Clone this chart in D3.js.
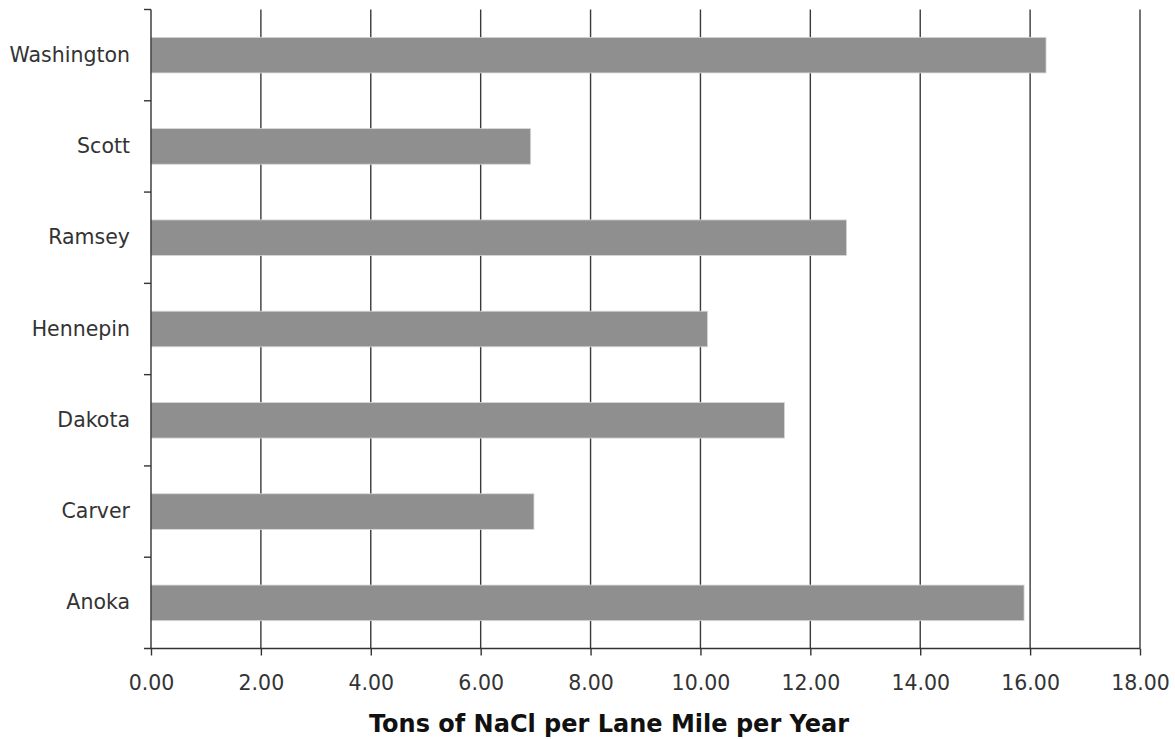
<!DOCTYPE html>
<html>
<head>
<meta charset="utf-8">
<script src="https://cdn.jsdelivr.net/npm/d3@7"></script>
<style>
  html, body { margin: 0; padding: 0; background: #fff; }
  svg { display: block; }
  text { font-family: "DejaVu Sans", Verdana, sans-serif; }
</style>
</head>
<body>
<svg id="chart" width="1175" height="739"></svg>
<script>
const categories = ["Washington", "Scott", "Ramsey", "Hennepin", "Dakota", "Carver", "Anoka"];
const values = [16.29, 6.91, 12.66, 10.13, 11.53, 6.97, 15.89];
const xTicks = [0, 2, 4, 6, 8, 10, 12, 14, 16, 18];
const xTitle = "Tons of NaCl per Lane Mile per Year";

(function () {
const svg = d3.select("#chart");
const pLeft = 151, pRight = 1140, pTop = 9.5, pBottom = 648.5;

const x = d3.scaleLinear().domain([0, 18]).range([pLeft, pRight]);
const y = d3.scaleBand().domain(categories).range([pTop, pBottom])
  .paddingInner(0.61).paddingOuter(0.305);

// vertical gridlines
svg.append("g").selectAll("line").data(xTicks.slice(1)).join("line")
  .attr("x1", d => x(d)).attr("x2", d => x(d))
  .attr("y1", pTop).attr("y2", pBottom)
  .attr("stroke", "#3a3a3a").attr("stroke-width", 1.4);

// bars
svg.append("g").selectAll("rect").data(categories).join("rect")
  .attr("x", x(0))
  .attr("y", d => y(d))
  .attr("width", (d, i) => x(values[i]) - x(0))
  .attr("height", y.bandwidth())
  .attr("fill", "#8f8f8f")
  .attr("stroke", "#d8d8d8").attr("stroke-width", 0.8);

// left axis line and boundary ticks
const step = y.step();
const boundaries = d3.range(categories.length + 1).map(i => pTop + i * step);
const ly = svg.append("g");
ly.append("line").attr("x1", pLeft).attr("x2", pLeft).attr("y1", pTop).attr("y2", pBottom)
  .attr("stroke", "#333").attr("stroke-width", 1.4);
ly.selectAll("line.tk").data(boundaries.slice(0, -1)).join("line").attr("class", "tk")
  .attr("x1", pLeft - 7).attr("x2", pLeft).attr("y1", d => d).attr("y2", d => d)
  .attr("stroke", "#333").attr("stroke-width", 1.4);

// category labels
const yAxis = d3.axisLeft(y).tickSize(0).tickPadding(21);
const gy = svg.append("g").attr("transform", `translate(${pLeft},0)`).call(yAxis);
gy.select(".domain").remove();
gy.selectAll("text").attr("font-size", 20.5).attr("fill", "#333")
  .style("font-family", "'DejaVu Sans', Verdana, sans-serif");

// bottom axis
const xAxis = d3.axisBottom(x).tickValues(xTicks).tickFormat(d3.format(".2f"))
  .tickSize(7).tickSizeOuter(0).tickPadding(20);
const gx = svg.append("g").attr("transform", `translate(0,${pBottom})`).call(xAxis);
gx.select(".domain").remove();
gx.append("line").attr("x1", pLeft - 7).attr("x2", pRight).attr("y1", 0).attr("y2", 0)
  .attr("stroke", "#333").attr("stroke-width", 1.4);
gx.selectAll(".tick line").attr("stroke", "#333").attr("stroke-width", 1.4);
gx.selectAll("text").attr("font-size", 20.5).attr("fill", "#333")
  .style("font-family", "'DejaVu Sans', Verdana, sans-serif");

// axis title
svg.append("text")
  .attr("x", 609).attr("y", 732)
  .attr("text-anchor", "middle")
  .attr("font-size", 24).attr("font-weight", "bold").attr("fill", "#111")
  .text(xTitle);
})();
</script>
</body>
</html>
